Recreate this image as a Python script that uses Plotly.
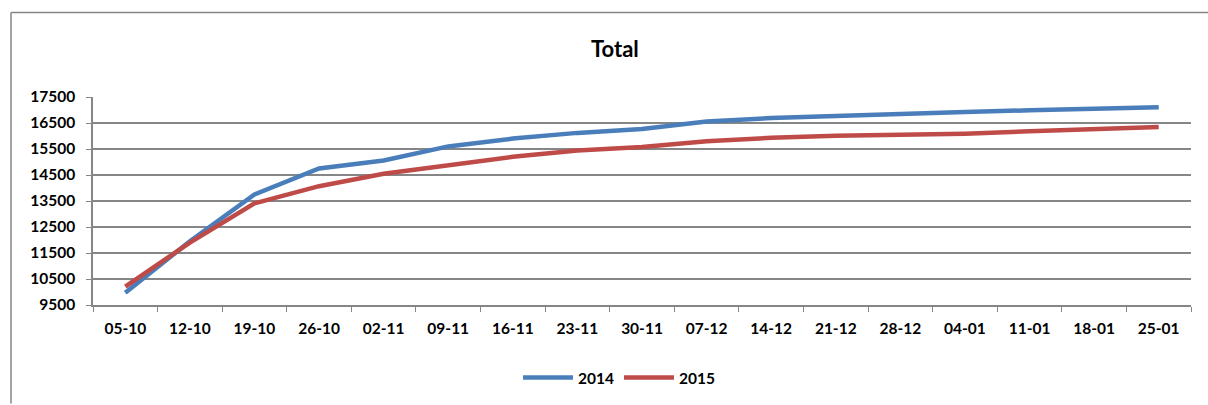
import plotly.graph_objects as go

# Weekly cumulative totals, season 2014 vs 2015
weeks = ["05-10", "12-10", "19-10", "26-10", "02-11", "09-11", "16-11", "23-11",
         "30-11", "07-12", "14-12", "21-12", "28-12", "04-01", "11-01", "18-01", "25-01"]
total_2014 = [9970, 11950, 13750, 14750, 15060, 15600, 15900, 16120,
              16270, 16560, 16690, 16780, 16850, 16920, 16990, 17060, 17110]
total_2015 = [10210, 11900, 13410, 14070, 14550, 14870, 15200, 15440,
              15580, 15800, 15930, 16010, 16050, 16090, 16180, 16270, 16350]
y_ticks = [9500, 10500, 11500, 12500, 13500, 14500, 15500, 16500, 17500]

W, H = 1208, 405
L, R, T, B = 93, 1191, 97, 306  # plot area edges in pixels


def px_x(p):
    return (p - L) / (R - L)


def px_y(p):
    return (B - p) / (B - T)


FONT = "Lato"
GRID = "#868686"
TICKFONT = dict(family=FONT, size=15.5, color="black", weight="bold")

fig = go.Figure()
fig.add_trace(go.Scatter(x=weeks, y=total_2014, name="2014", mode="lines",
                         line=dict(color="#4a7ebb", width=4.5)))
fig.add_trace(go.Scatter(x=weeks, y=total_2015, name="2015", mode="lines",
                         line=dict(color="#be4b48", width=4.5)))

# chart-area frame: only the left and top edges fall inside the page
frame = dict(color=GRID, width=1.5)
fig.update_layout(
    width=W, height=H,
    margin=dict(l=L, r=W - R, t=T, b=H - B),
    paper_bgcolor="white", plot_bgcolor="white",
    font=dict(family=FONT, size=15, color="black"),
    showlegend=True,
    legend=dict(orientation="h", x=px_x(619), y=px_y(378), xanchor="center", yanchor="middle",
                font=TICKFONT, itemwidth=50, bgcolor="rgba(0,0,0,0)"),
    annotations=[dict(text="<b>Total</b>", x=px_x(615), y=px_y(48), xref="paper", yref="paper",
                      showarrow=False, xanchor="center", yanchor="middle",
                      font=dict(family=FONT, size=22, color="black"))],
    shapes=[
        dict(type="line", xref="paper", yref="paper",
             x0=px_x(11), x1=px_x(11), y0=px_y(12), y1=px_y(405), line=frame, layer="below"),
        dict(type="line", xref="paper", yref="paper",
             x0=px_x(11), x1=px_x(1208), y0=px_y(12), y1=px_y(12), line=frame, layer="below"),
    ],
)

fig.update_xaxes(
    type="category", tickson="boundaries", ticks="outside", ticklen=5, tickcolor=GRID,
    showline=True, linecolor=GRID, linewidth=1.5, showgrid=False,
    tickfont=TICKFONT, range=[-0.5, len(weeks) - 0.5], ticklabelstandoff=9,
)
fig.update_yaxes(
    range=[9500, 17500], tickvals=y_ticks, tickformat="d", ticks="outside", ticklen=5,
    tickcolor=GRID, showline=True, linecolor=GRID, linewidth=1.5,
    showgrid=True, gridcolor=GRID, gridwidth=1.5, zeroline=False,
    tickfont=TICKFONT, ticklabelstandoff=8,
)

fig.write_html("out.html", config={"displayModeBar": False})
